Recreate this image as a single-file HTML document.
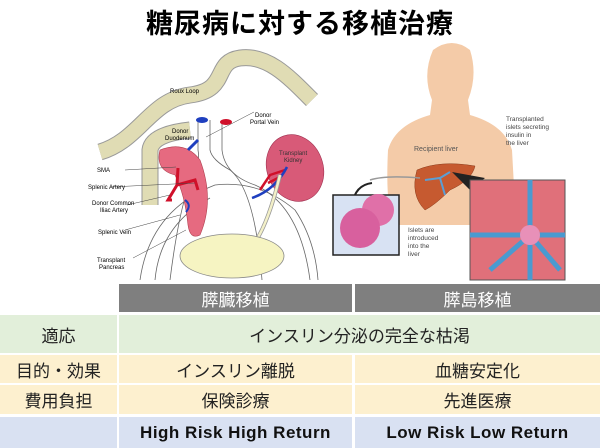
<!DOCTYPE html>
<html><head><meta charset="utf-8"><style>
body{margin:0;width:600px;height:448px;background:#fff;overflow:hidden;position:relative;font-family:"Liberation Sans","Noto Sans CJK JP",sans-serif}
.t{position:absolute;left:0;width:600px;top:2px;text-align:center;font-size:27px;font-weight:bold;font-family:"Noto Sans CJK JP",sans-serif;color:#000;letter-spacing:1px}
.c{position:absolute;display:flex;align-items:center;justify-content:center;font-size:17px;color:#222;font-family:"Noto Sans CJK JP",sans-serif}
.h{background:#7f7f7f;color:#fff}
.g{background:#e2efda}.o{background:#fdf0cf}.b{background:#d9e1f2}
.e{font-family:"Liberation Sans",sans-serif;font-weight:bold;letter-spacing:.5px;color:#111}
svg{position:absolute;left:0;top:0}
</style></head><body>
<div class="t">糖尿病に対する移植治療</div>
<svg width="600" height="285" font-family="Liberation Sans" font-size="6">
<!-- left diagram -->
<path d="M100 152 C140 140,150 100,190 95 S212 62,240 58 S290 78,312 100" fill="none" stroke="#999" stroke-width="17"/>
<path d="M100 152 C140 140,150 100,190 95 S212 62,240 58 S290 78,312 100" fill="none" stroke="#e0dcb4" stroke-width="15"/>
<path d="M150 205 L150 150 Q152 134 190 130" fill="none" stroke="#999" stroke-width="17"/>
<path d="M150 205 L150 150 Q152 134 190 130" fill="none" stroke="#e0dcb4" stroke-width="15"/>
<text x="170" y="93" font-size="6">Roux Loop</text>
<text x="172" y="133">Donor</text><text x="165" y="140">Duodenum</text>
<g fill="none" stroke="#666" stroke-width="0.8">
<path d="M198 120 V150 Q200 160 195 170 Q180 200 170 280"/>
<path d="M210 120 V150 Q212 160 230 170 Q255 190 262 280"/>
<path d="M222 120 V150 Q225 175 255 185 Q300 205 310 280"/>
<path d="M140 280 Q150 210 215 185 Q260 180 295 210 Q315 240 318 280"/>
<path d="M155 280 Q160 225 210 198"/>
</g>
<ellipse cx="202" cy="120" rx="6" ry="3" fill="#1f3fbf"/><ellipse cx="226" cy="122" rx="6" ry="3" fill="#d0102a"/>
<path d="M160 150 Q185 140 200 160 Q215 200 200 235 Q190 240 188 225 Q185 195 175 175 Q155 170 160 150Z" fill="#e66a80" stroke="#b04050" stroke-width=".6"/>
<path d="M178 168 L177 185 L168 200 L172 200 M177 185 L195 180 L198 190" fill="none" stroke="#d0102a" stroke-width="3"/>
<path d="M188 150 L198 140" stroke="#1f3fbf" stroke-width="3"/>
<path d="M185 200 Q192 205 186 212" fill="none" stroke="#1f3fbf" stroke-width="2"/>
<ellipse cx="295" cy="168" rx="28" ry="34" fill="#d85a78" stroke="#a03050" stroke-width=".6" transform="rotate(-20 295 168)"/>
<text x="279" y="155" font-size="6" fill="#333">Transplant</text><text x="284" y="162" font-size="6" fill="#333">Kidney</text>
<path d="M260 190 L270 175 L285 170 M268 183 L278 178" fill="none" stroke="#d0102a" stroke-width="2.5"/>
<path d="M252 198 Q275 190 287 167" fill="none" stroke="#1f3fbf" stroke-width="2.5"/>
<path d="M237 258 Q262 250 280 175" fill="none" stroke="#999" stroke-width="4"/><path d="M237 258 Q262 250 280 175" fill="none" stroke="#f3f0c8" stroke-width="2.5"/>
<ellipse cx="232" cy="256" rx="52" ry="22" fill="#f6f4c2" stroke="#888" stroke-width=".8"/>
<g stroke="#444" stroke-width=".5" fill="none"><path d="M125 170 L176 167"/><path d="M110 187 L195 183"/><path d="M127 205 L170 195"/><path d="M125 230 L180 215"/><path d="M133 258 L186 230"/><path d="M254 112 L206 137"/></g>
<text x="97" y="172">SMA</text><text x="88" y="189">Splenic Artery</text>
<text x="92" y="205">Donor Common</text><text x="100" y="212">Iliac Artery</text>
<text x="98" y="234">Splenic Vein</text>
<text x="97" y="262">Transplant</text><text x="99" y="269">Pancreas</text>
<text x="255" y="117">Donor</text><text x="250" y="124">Portal Vein</text>
<!-- right body -->
<path d="M433 50 Q452 36 470 50 Q478 75 468 100 L470 115 Q505 125 512 150 L515 205 Q505 220 470 225 L395 225 Q385 210 388 150 Q395 125 430 115 L432 100 Q422 75 433 50Z" fill="#f4cba8"/>
<text x="414" y="151" font-size="7" fill="#555">Recipient liver</text>
<path d="M417 170 Q440 160 475 166 Q472 180 450 190 Q435 205 425 210 Q410 195 417 170Z" fill="#c65a30" stroke="#8a3a1a" stroke-width=".5"/>
<path d="M425 180 L440 178 L445 195 M440 178 L450 172" fill="none" stroke="#5a9fd6" stroke-width="2"/>
<path d="M370 180 Q385 175 420 178" fill="none" stroke="#999" stroke-width="1.5"/>
<path d="M352 205 Q355 185 372 183" fill="none" stroke="#222" stroke-width="2"/>
<rect x="333" y="195" width="66" height="60" fill="#d8e2f3" stroke="#222" stroke-width="1.5"/>
<circle cx="378" cy="210" r="16" fill="#e070a8"/><circle cx="360" cy="228" r="20" fill="#d8609e"/>
<text x="408" y="232" font-size="6.5" fill="#444">Islets are</text><text x="408" y="240" font-size="6.5" fill="#444">introduced</text><text x="408" y="248" font-size="6.5" fill="#444">into the</text><text x="408" y="256" font-size="6.5" fill="#444">liver</text>
<path d="M452 172 L485 178 L470 190Z" fill="#222"/>
<rect x="470" y="180" width="95" height="100" fill="#e0707a" stroke="#555"/>
<g stroke="#4a9ad0" stroke-width="5" fill="none"><path d="M530 180 V280"/><path d="M470 235 H565"/><path d="M490 270 L530 235 L560 270"/></g>
<circle cx="530" cy="235" r="10" fill="#e890b8"/>
<text x="506" y="121" font-size="6.5" fill="#444">Transplanted</text><text x="506" y="129" font-size="6.5" fill="#444">islets secreting</text><text x="506" y="137" font-size="6.5" fill="#444">insulin in</text><text x="506" y="145" font-size="6.5" fill="#444">the liver</text>
</svg>
<div class="c h" style="left:119px;top:284px;width:233px;height:28px">膵臓移植</div>
<div class="c h" style="left:355px;top:284px;width:245px;height:28px">膵島移植</div>
<div class="c g" style="left:0;top:315px;width:117px;height:38px">適応</div>
<div class="c g" style="left:119px;top:315px;width:481px;height:38px">インスリン分泌の完全な枯渇</div>
<div class="c o" style="left:0;top:355px;width:117px;height:28px">目的・効果</div>
<div class="c o" style="left:119px;top:355px;width:233px;height:28px">インスリン離脱</div>
<div class="c o" style="left:355px;top:355px;width:245px;height:28px">血糖安定化</div>
<div class="c o" style="left:0;top:385px;width:117px;height:29px">費用負担</div>
<div class="c o" style="left:119px;top:385px;width:233px;height:29px">保険診療</div>
<div class="c o" style="left:355px;top:385px;width:245px;height:29px">先進医療</div>
<div class="c b" style="left:0;top:417px;width:117px;height:31px"></div>
<div class="c b e" style="left:119px;top:417px;width:233px;height:31px">High Risk High Return</div>
<div class="c b e" style="left:355px;top:417px;width:245px;height:31px">Low Risk Low Return</div>
</body></html>
